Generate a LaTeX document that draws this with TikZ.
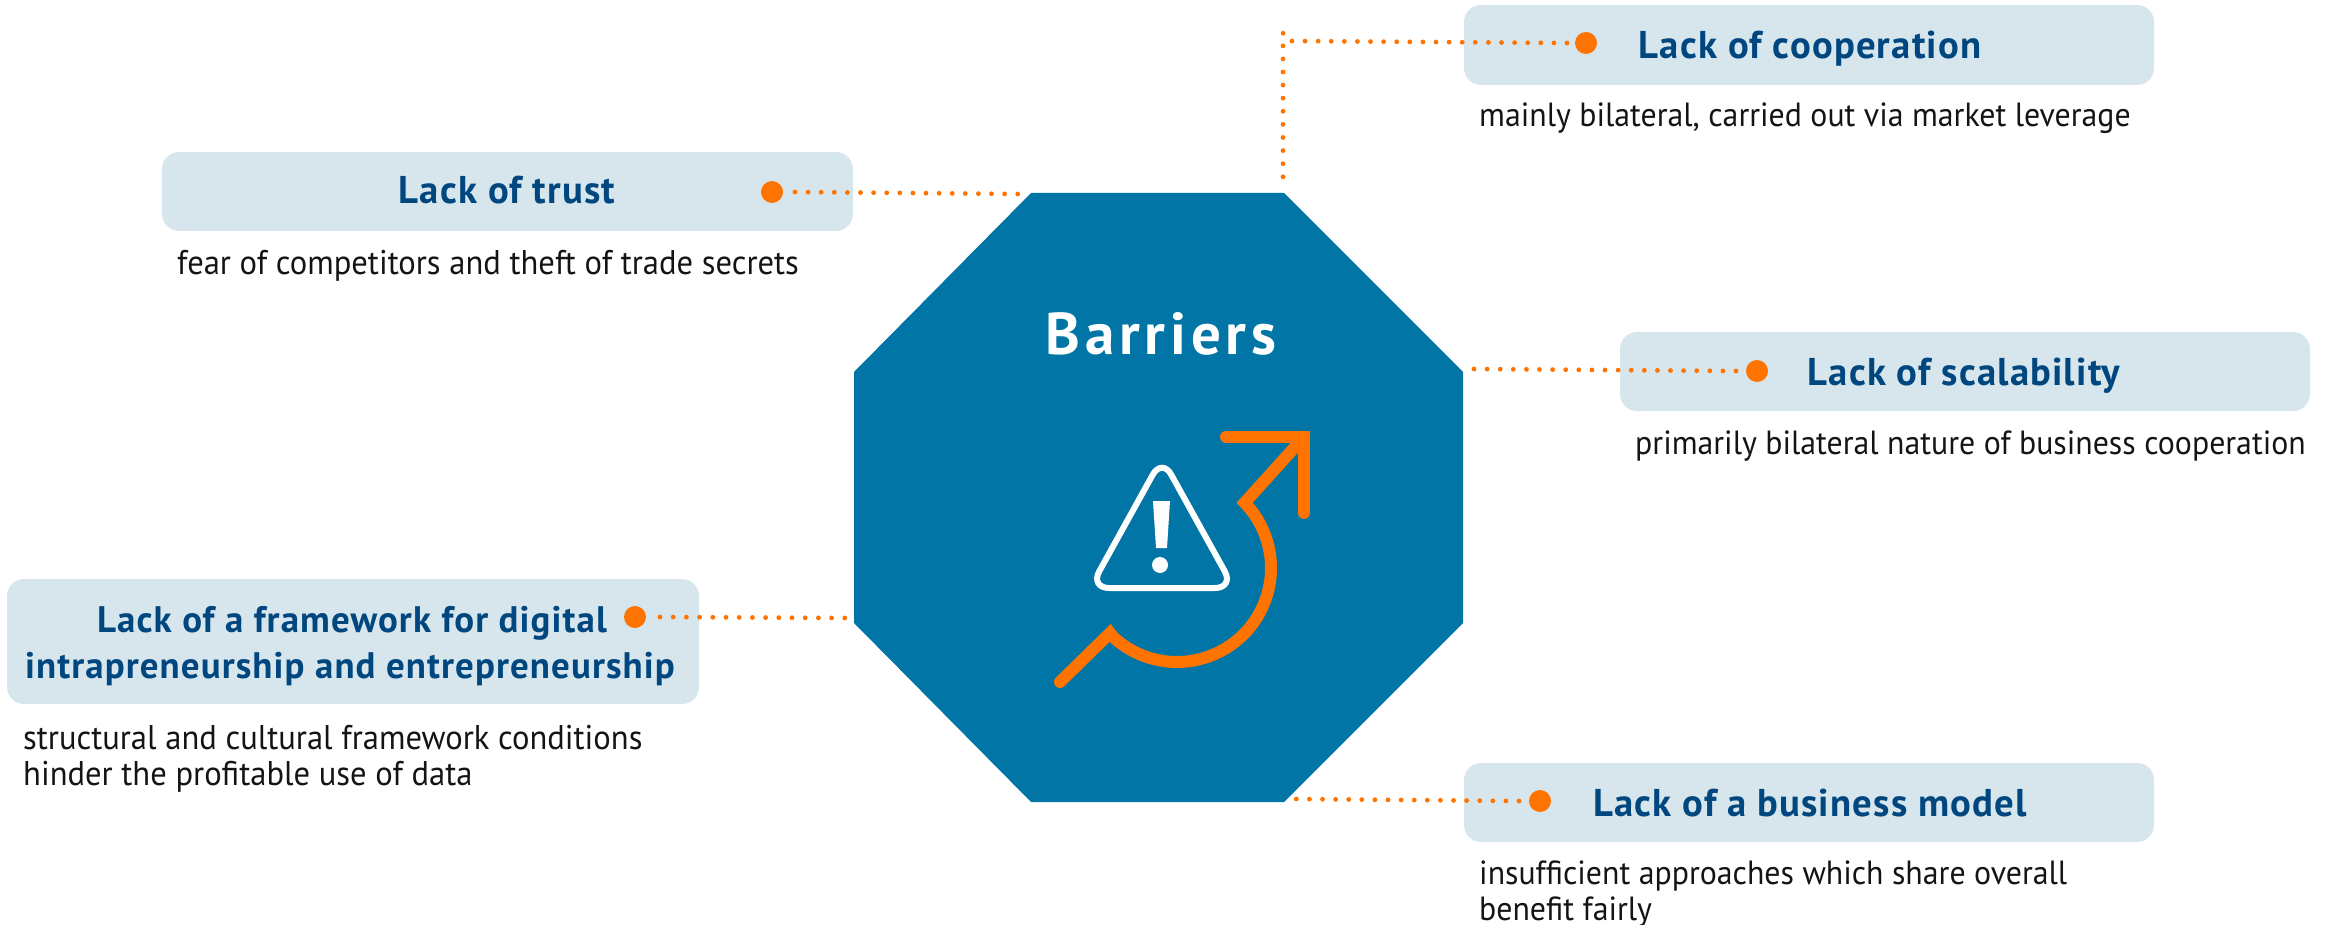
\documentclass[tikz,border=0pt]{standalone}
\usepackage{fontspec}
\setmainfont[FakeStretch=0.95]{PT Sans}
\newfontfamily\titlefont[LetterSpace=3]{PT Sans Bold}
\newfontfamily\bigfont[LetterSpace=8]{PT Sans Bold}
\definecolor{octblue}{HTML}{0075A6}
\definecolor{boxblue}{HTML}{D7E6ED}
\definecolor{titleblue}{HTML}{00467F}
\definecolor{accent}{HTML}{FF7300}
\definecolor{bodyink}{HTML}{141414}
\tikzset{
  x=1pt,y=-1pt,
  boxbg/.style={fill=boxblue,rounded corners=17pt,draw=none},
  titletext/.style={inner sep=0pt,anchor=base,text=titleblue,font=\titlefont\fontsize{38.7}{46}\selectfont},
  titlenarrow/.style={titletext,font=\titlefont\fontsize{36.9}{46}\selectfont},
  subtext/.style={inner sep=0pt,anchor=base west,text=bodyink,font=\fontsize{33.5}{36}\selectfont},
  subwide/.style={subtext,font=\fontsize{34.3}{36}\selectfont},
  dotnode/.style={circle,fill=accent,draw=none,minimum size=22pt,inner sep=0pt},
  leader/.style={draw=accent,line width=4.8pt,line cap=round,dash pattern=on 0pt off 13.1pt},
  iconline/.style={draw=accent,line width=12pt},
}
\begin{document}
\begin{tikzpicture}
\useasboundingbox (0,0) rectangle (2333,925);
% octagon
\fill[octblue] (1031,193) -- (1284,193) -- (1463,372) -- (1463,623) -- (1284,802) -- (1031,802) -- (854,623) -- (854,372) -- cycle;
\node[inner sep=0pt,anchor=base,text=white,font=\bigfont\fontsize{59}{60}\selectfont] (barriers) at (1161,354) {Barriers};
% boxes
\fill[boxbg] (1464,5) rectangle (2154,85);
\fill[boxbg] (162,152) rectangle (853,231);
\fill[boxbg] (1620,332) rectangle (2310,411);
\fill[boxbg] (7,579) rectangle (699,704);
\fill[boxbg] (1464,763) rectangle (2154,842);
% titles
\node[titletext] (tcoop) at (1810,59) {Lack of cooperation};
\node[titletext] (ttrust) at (507,204) {Lack of trust};
\node[titletext] (tscal) at (1964,385) {Lack of scalability};
\node[titlenarrow] (tframea) at (352,632) {Lack of a framework for digital};
\node[titlenarrow] (tframeb) at (350,678) {intrapreneurship and entrepreneurship};
\node[titletext] (tbiz) at (1810,816) {Lack of a business model};
% descriptions
\node[subtext] (scoop) at (1479,127) {mainly bilateral, carried out via market leverage};
\node[subwide] (strust) at (177,274) {fear of competitors and theft of trade secrets};
\node[subtext] (sscal) at (1635,454) {primarily bilateral nature of business cooperation};
\node[subwide] (sframea) at (23,749) {structural and cultural framework conditions};
\node[subwide] (sframeb) at (23,785) {hinder the profitable use of data};
\node[subtext] (sbiza) at (1479,884) {insufficient approaches which share overall};
\node[subtext] (sbizb) at (1479,920) {benefit fairly};
% dots
\node[dotnode] (dcoop) at (1586,43) {};
\node[dotnode] (dtrust) at (772,192) {};
\node[dotnode] (dscal) at (1757,371) {};
\node[dotnode] (dframe) at (635,617) {};
\node[dotnode] (dbiz) at (1540,801) {};
% connector ends
\coordinate (ecoop) at (1283,179);
\coordinate (bend) at (1283,41);
\coordinate (etrust) at (1019,194);
\coordinate (escal) at (1473,369);
\coordinate (eframe) at (846,618);
\coordinate (ebiz) at (1296,799);
\draw[leader] (dcoop) ++(-19,0) -- ([xshift=8pt]bend) to[out=180,in=-90] ([yshift=8pt]bend) -- (ecoop);
\draw[leader] (dtrust) ++(23,0) -- (etrust);
\draw[leader] (dscal) ++(-21,0) -- (escal);
\draw[leader,dash pattern=on 0pt off 13.2pt] (dframe) ++(25,0) -- (eframe);
\draw[leader] (dbiz) ++(-21,0) -- (ebiz);
% icon: arrow
\draw[iconline,line cap=round,line join=miter,miter limit=10]
  (1060,682) -- (1110,633)
  -- plot[domain=133:-44,samples=60] ({1177+94*cos(\x)},{568+94*sin(\x)})
  -- (1304,437);
\draw[iconline,line cap=round,line join=miter,miter limit=10] (1226,437) -- (1304,437) -- (1304,513);
% icon: warning triangle
\draw[white,line width=6pt,rounded corners=19pt] (1162,458) -- (1234,588) -- (1090,588) -- cycle;
\fill[white] (1153,501) -- (1170,501) -- (1167,548) -- (1156,548) -- cycle;
\fill[white] (1160,565) circle (8);
\end{tikzpicture}
\end{document}
